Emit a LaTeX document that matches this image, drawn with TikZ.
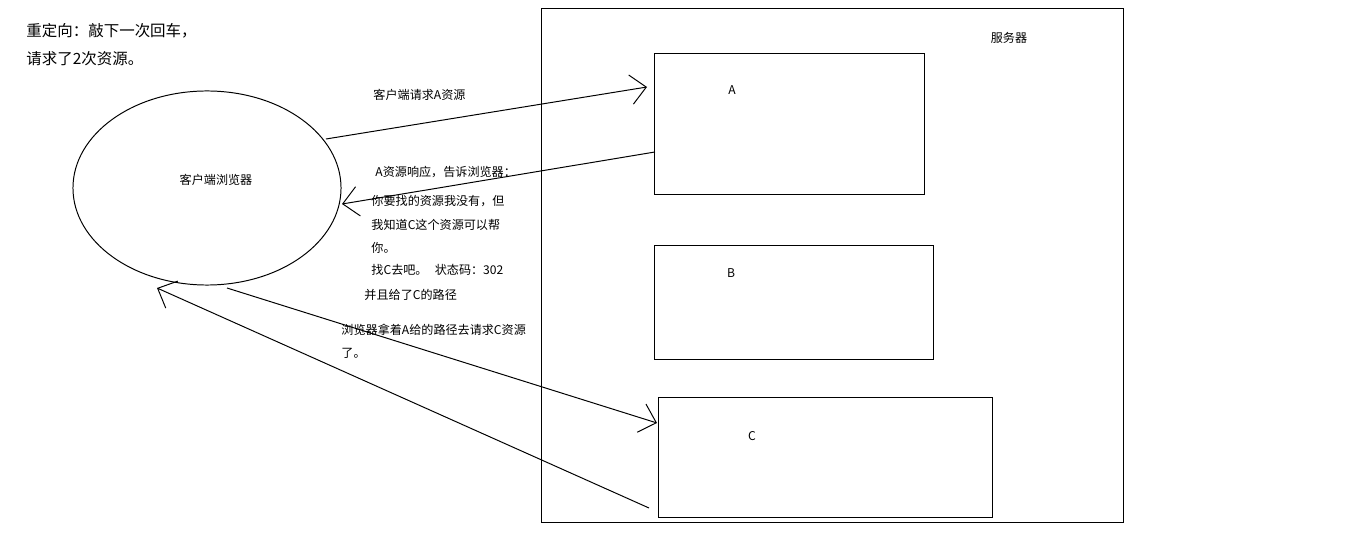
\documentclass[tikz,border=0pt]{standalone}
\usepackage{fontspec}
\setmainfont{Noto Sans CJK SC}
\usepackage{tikz}
\usetikzlibrary{positioning, arrows.meta, shapes.geometric}

\begin{document}
\begin{tikzpicture}[x=0.025cm,y=-0.025cm,line width=0.7pt,
    box/.style={draw,inner sep=0pt},
    txt/.style={font=\fontsize{8.6pt}{10pt}\selectfont,inner sep=0pt,anchor=west},
    big/.style={font=\fontsize{11pt}{13pt}\selectfont,inner sep=0pt,anchor=west},
    arr/.style={-{Straight Barb[length=11pt,width=21pt,line width=0.7pt]}}]
  \useasboundingbox (0,0) rectangle (1360,556);
  \node[big](t1) at (26,31){重定向：敲下一次回车，};
  \node[big](t2) at (26,59){请求了2次资源。};
  \node[box,ellipse,minimum width=6.7cm,minimum height=4.85cm](brw) at (207,188){};
  \node[txt,anchor=center](brwlbl) at (216,180){客户端浏览器};
  \node[box,minimum width=14.525cm,minimum height=12.825cm](srv) at (832.5,265.5){};
  \node[txt,anchor=center](srvlbl) at (1009,38){服务器};
  \node[box,minimum width=6.725cm,minimum height=3.5cm](A) at (789.5,124){};
  \node[box,minimum width=6.95cm,minimum height=2.825cm](B) at (794,302.5){};
  \node[box,minimum width=8.325cm,minimum height=2.975cm](C) at (825.5,457.5){};
  \node[txt,anchor=center](Albl) at (732,90){A};
  \node[txt,anchor=center](Blbl) at (731,273){B};
  \node[txt,anchor=center](Clbl) at (752,436){C};
  % arrow ends
  \coordinate(r1s) at (326,139);
  \coordinate(r1e) at (647,87);
  \coordinate(r2s) at (655,152);
  \coordinate(r2e) at (342,204);
  \coordinate(r3s) at (227,288);
  \coordinate(r3e) at (657,423);
  \coordinate(r4s) at (649,508);
  \coordinate(r4e) at (157,288);
  \draw[arr](r1s)--(r1e);
  \draw[arr](r2s)--(r2e);
  \draw[arr](r3s)--(r3e);
  \draw[arr](r4s)--(r4e);
  % texts
  \node[txt](m1) at (373,95){客户端请求A资源};
  \node[txt](m2) at (375,172){A资源响应，告诉浏览器：};
  \node[txt](m3) at (371,201){你要找的资源我没有，但};
  \node[txt](m4) at (371,225){我知道C这个资源可以帮};
  \node[txt](m5) at (371,248){你。};
  \node[txt](m6) at (371,270){找C去吧。\hspace{0.6em}状态码：302};
  \node[txt](m7) at (364,295){并且给了C的路径};
  \node[txt](m8) at (341,330){浏览器拿着A给的路径去请求C资源};
  \node[txt](m9) at (341,353){了。};
\end{tikzpicture}
\end{document}
